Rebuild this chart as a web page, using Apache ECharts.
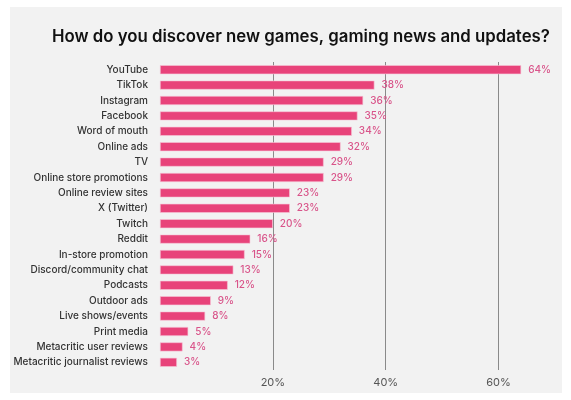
<!DOCTYPE html>
<html>
<head>
<meta charset="utf-8">
<script src="https://cdn.jsdelivr.net/npm/echarts@6/dist/echarts.min.js"></script>
<style>
html,body{margin:0;padding:0;background:#ffffff;}
#chart{width:571px;height:400px;}
</style>
</head>
<body>
<div id="chart"></div>
<script>
const titleText = 'How do you discover new games, gaming news and updates?';
const categories = [
  'YouTube','TikTok','Instagram','Facebook','Word of mouth','Online ads','TV',
  'Online store promotions','Online review sites','X (Twitter)','Twitch','Reddit',
  'In-store promotion','Discord/community chat','Podcasts','Outdoor ads',
  'Live shows/events','Print media','Metacritic user reviews','Metacritic journalist reviews'
];
const values = [64,38,36,35,34,32,29,29,23,23,20,16,15,13,12,9,8,5,4,3];
const tickLabels = [20,40,60];

const chart = echarts.init(document.getElementById('chart'));
chart.setOption({
  backgroundColor: '#ffffff',
  animation: false,
  graphic: [{
    type: 'rect', z: -10, silent: true,
    shape: {x: 10, y: 7, width: 552, height: 386},
    style: {fill: '#f2f2f2'}
  }],
  title: {
    text: titleText,
    left: 47, top: 23,
    textStyle: {fontFamily: 'Inter', fontWeight: 600, fontSize: 16.8, color: '#111111'}
  },
  grid: {left: 160, right: 16, top: 62, bottom: 30, containLabel: false},
  xAxis: {
    type: 'value', min: 0, max: 70, interval: 20,
    axisLine: {show: false}, axisTick: {show: false},
    splitLine: {show: true, showMinLine: false, showMaxLine: false,
      lineStyle: {color: '#8a8a8a', width: 1}},
    axisLabel: {
      margin: 7,
      fontFamily: 'Inter', fontSize: 11, color: '#555555',
      formatter: v => tickLabels.indexOf(v) >= 0 ? v + '%' : ''
    }
  },
  yAxis: {
    type: 'category', inverse: true, data: categories,
    axisLine: {show: false}, axisTick: {show: false},
    axisLabel: {margin: 12, fontFamily: 'Inter', fontWeight: 500, fontSize: 10, color: '#333333'}
  },
  series: [{
    type: 'bar', data: values, barWidth: 9,
    itemStyle: {color: '#e8437a', borderColor: '#f7c6d6', borderWidth: 0.6},
    label: {
      show: true, position: 'right', distance: 7,
      formatter: p => p.value + '%',
      fontFamily: 'Inter', fontWeight: 500, fontSize: 10, color: '#d9548a'
    }
  }]
});
</script>
</body>
</html>
